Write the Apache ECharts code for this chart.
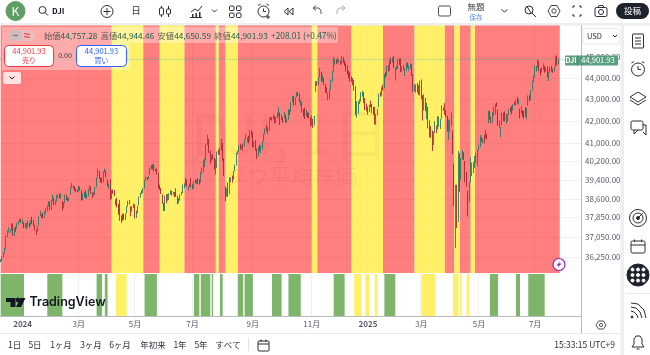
<!DOCTYPE html>
<html>
<head>
<meta charset="utf-8">
<script src="https://cdn.jsdelivr.net/npm/echarts@6/dist/echarts.min.js"></script>
<style>html,body{margin:0;padding:0;background:#fff}#main{width:650px;height:355px}</style>
</head>
<body>
<div id="main"></div>
<script>
// values, one row per month, Dec 2023 .. Jul 2025
var opens = [
36060,36130,36250,36420,36590,37110,37270,37290,37320,37550,37100,37390,37400,37560,37680,37720,
37570,37640,37430,37450,37470,37600,37560,37720,37650,37510,37290,37300,37530,37930,37960,37950,37850,38050,38110,38340,38470,
38180,38560,38630,38390,38530,38690,38730,38680,38520,38300,38440,38770,38610,38560,38770,39100,39120,39090,38980,38940,
39000,39060,38960,38620,38680,38800,38690,38790,39030,39060,38840,38750,38780,39120,39560,39760,39450,39340,39320,39780,
39770,39420,39110,39130,38640,38910,38920,38590,38500,38400,38000,37810,37840,37800,37800,38030,38280,38510,38290,38120,38250,38360,
37830,38060,38360,38680,38890,38890,39060,39400,39520,39450,39620,39910,39890,40000,39790,39860,39650,39100,39060,38760,38420,38120,
38700,38540,38730,38820,38900,38790,38880,38880,38710,38570,38590,38790,38860,39140,39170,39400,39090,39130,39180,
39110,39110,39320,39310,39390,39370,39310,39750,39760,40030,40270,40970,41180,40660,40320,40430,40350,39800,40000,40580,40550,40750,
40800,40290,39130,38740,39020,38800,39440,39490,39410,39800,40030,40580,40670,40880,40830,40960,40850,41190,41210,41210,41120,41370,
41480,40900,40950,40700,40410,40850,40740,40860,41100,41400,41620,41600,41580,42080,42070,42130,42230,41880,42180,42320,
42330,42130,42180,42130,42290,41970,42090,42480,42440,42890,43080,42760,43100,43290,43270,42910,42900,42520,42440,42200,42330,42230,42130,
41820,42030,41800,43490,43760,43750,44020,44300,43930,43970,43710,43430,43230,43260,43440,43880,44310,44760,44870,44760,
44780,44740,44720,44990,44780,44630,44400,44280,44150,43900,43840,43790,43470,42300,42380,42890,42910,43310,43300,42920,42620,
42600,42420,42730,42720,42640,42610,41930,42300,42660,43220,43160,43530,43530,44170,44200,44550,44440,44880,44750,44920,
44200,44420,44480,44880,44750,44340,44430,44340,44400,44720,44550,44520,44590,44170,43430,43470,43640,43440,43270,
43850,43120,42560,42970,42500,42660,41870,41690,41300,40920,41490,41790,41620,41890,41740,42100,42590,42610,42390,42240,41470,
41900,41790,41560,40100,37500,38650,37700,40550,39640,40500,40430,40200,39730,38950,38500,39280,39650,39950,40170,40130,40240,
40700,40840,41240,41080,41140,41220,41410,41920,42390,42170,41950,42330,42470,42720,42450,41850,41270,41900,42350,42290,42100,
42130,42300,42540,42430,42470,42790,42780,42890,42850,42560,42340,42480,42230,42250,42180,42750,43130,43030,43450,43850,
44080,44480,44500,44810,44400,44270,44500,44570,44360,44450,44030,44270,44490,44360,44350,44560,45010,44757.28
];
var closes = [
36117,36247,36404,36577,37090,37248,37305,37306,37557,37082,37404,37385,37545,37656,37710,37689,
37715,37430,37440,37466,37683,37525,37711,37711,37592,37361,37266,37468,37863,38001,37905,37806,38049,38109,38333,38467,38150,
38519,38654,38380,38521,38677,38726,38671,38797,38273,38424,38773,38627,38564,38612,39069,39131,39069,38972,38949,38996,
39087,38989,38585,38661,38791,38722,38769,39005,39043,38905,38714,38790,39110,39512,39781,39475,39313,39282,39760,39807,
39566,39170,39127,38596,38904,38892,38883,38461,38459,37983,37735,37798,37753,37775,37986,38240,38504,38461,38086,38240,38386,37816,
37903,38226,38676,38852,38884,39056,39388,39513,39432,39558,39908,39869,40004,39807,39872,39671,39065,39069,38852,38441,38112,38686,
38571,38711,38807,38886,38799,38868,38747,38712,38589,38589,38778,38834,39135,39150,39411,39112,39128,39164,39119,
39170,39332,39308,39376,39344,39291,39721,39753,40001,40212,40954,41198,40665,40288,40415,40358,39854,39935,40589,40539,40743,40843,
40347,39737,38703,38997,38763,39446,39497,39357,39766,40009,40563,40660,40897,40835,40890,40713,41175,41241,41250,41091,41335,41563,
40937,40975,40755,40345,40830,40736,40861,41097,41394,41622,41606,41503,42025,42063,42125,42208,41915,42175,42313,42330,
42156,42196,42012,42353,41954,42080,42512,42454,42864,43065,42740,43077,43239,43275,42932,42925,42514,42374,42115,42387,42233,42142,41763,
42052,41794,42222,43730,43729,43989,44293,43911,43958,43751,43445,43390,43269,43408,43870,44297,44736,44860,44722,44911,
44782,44705,45014,44766,44643,44401,44248,44149,43914,43828,43718,43450,42327,42342,42840,42906,43297,43325,42992,42574,42544,
42392,42732,42706,42528,42635,41938,42297,42518,43221,43153,43488,43487,44157,44156,44566,44424,44850,44713,44882,44544,
44421,44556,44873,44747,44303,44470,44593,44368,44711,44546,44556,44627,44176,43428,43461,43621,43433,43239,43841,
43191,42520,43006,42579,42801,41912,41433,41351,40813,41488,41841,41581,41964,41953,41985,42583,42587,42454,42299,41583,42001,
41989,42225,40545,38314,37966,37645,40608,39594,40212,40524,40368,39669,39142,38170,39186,39606,40093,40113,40227,40527,40669,
40752,41317,41218,41113,41114,41368,41249,42410,42140,42051,42322,42654,42792,42677,41860,41859,41603,42343,42003,42215,42270,
42305,42520,42427,42319,42763,42762,42867,42866,42968,42197,42515,42215,42172,42206,42582,43089,42982,43386,43819,44095,
44495,44484,44829,44406,44240,44458,44651,44371,44459,44023,44254,44484,44342,44323,44502,45010,44694,44901.93
];
var lows = [
36040,36100,36220,36390,36570,37030,37220,37210,37300,37080,37080,37260,37380,37540,37640,37620,
37570,37400,37400,37350,37460,37420,37500,37570,37490,37300,37120,37260,37510,37900,37820,37780,37840,37990,38090,38280,38130,
38150,38500,38350,38350,38480,38630,38620,38620,38120,38220,38430,38560,38500,38510,38770,39060,39040,38940,38880,38880,
38900,38960,38530,38560,38670,38640,38610,38710,38970,38810,38640,38730,38770,39090,39540,39440,39290,39260,39300,39730,
39520,39130,39020,38570,38600,38810,38720,38340,38250,37950,37700,37610,37700,37740,37730,38000,38280,38370,37890,38080,38220,37800,
37810,38000,38340,38650,38810,38850,39050,39370,39400,39440,39620,39860,39850,39760,39770,39640,39040,38980,38810,38400,38110,38100,
38420,38530,38560,38780,38740,38780,38680,38690,38380,38410,38530,38760,38850,39050,39160,39110,38960,39090,39100,
39000,39030,39270,39220,39240,39210,39300,39660,39730,39960,40250,40910,40570,40100,40210,40290,39850,39630,39920,40490,40490,40670,
40230,39570,38500,38700,38690,38800,39300,39290,39410,39780,40020,40510,40630,40710,40760,40670,40830,41180,41040,41000,41090,41260,
40800,40830,40670,40310,40410,40640,40540,40720,41090,41390,41550,41420,41550,42050,42010,42070,41900,41880,42120,42190,
41820,42050,41920,42120,41930,41920,42060,42270,42430,42870,42710,42730,43090,43150,42870,42710,42390,42200,42090,42200,42150,42120,41750,
41800,41690,41800,43350,43630,43660,44020,43820,43820,43680,43300,43300,42950,43000,43420,43820,44310,44640,44670,44730,
44720,44630,44660,44710,44580,44310,44170,44010,43830,43810,43650,43400,42270,42150,42330,42780,42890,43120,42820,42500,42440,
42290,42410,42630,42360,42280,41830,41840,42260,42640,43110,43160,43400,43500,44040,44110,44300,44340,44660,44730,44490,
43880,44370,44440,44640,44280,44310,44360,44100,44350,44490,44340,44440,44100,43330,43360,43300,43310,43200,43170,
43000,42020,42480,42450,42080,41660,41260,41240,40660,40910,41460,41450,41620,41740,41640,42100,42470,42280,42180,41520,41160,
41520,41770,40520,38300,36610,37410,37650,38900,39420,40290,40270,39300,39120,37880,38470,39280,39570,39690,39920,40130,40000,
40680,40830,41070,40990,41000,41220,41160,41900,42060,41900,41900,42240,42300,42660,41780,41690,41260,41800,42000,41980,41880,
41980,42270,42420,42300,42470,42710,42720,42800,42740,42120,42340,42180,42110,42190,42100,42700,42900,42960,43410,43800,
44020,44300,44480,44330,44120,44260,44390,44250,44310,44020,43850,44250,44300,44250,44300,44560,44600,44650.59
];
var highs = [
36170,36290,36430,36600,37110,37300,37430,37350,37590,37600,37410,37460,37620,37690,37790,37770,
37780,37640,37620,37610,37700,37610,37730,37860,37730,37530,37340,37500,37880,38110,37980,38030,38080,38220,38350,38490,38510,
38550,38790,38660,38540,38750,38790,38800,38840,38520,38470,38780,38790,38660,38680,39090,39280,39170,39130,39040,39000,
39150,39120,38960,38830,38890,38950,38820,39030,39170,39120,38880,38880,39120,39530,39890,39780,39500,39510,39770,39890,
39810,39420,39250,39430,38990,39000,38970,38590,38650,38400,38560,37920,37990,37990,38000,38300,38520,38560,38290,38310,38410,38380,
38120,38310,38700,38860,38960,39060,39400,39540,39530,39560,39940,40050,40080,40080,39880,39900,39710,39200,39070,38790,38440,38740,
38800,38810,38840,38960,38950,38900,38890,39050,38720,38630,38790,38900,39210,39260,39500,39420,39130,39240,39490,
39240,39340,39430,39390,39480,39430,39730,39930,40260,40350,40990,41380,41190,40670,40470,40520,40370,40300,40640,40710,40810,41200,
41000,40330,39140,39050,39290,39520,39510,39590,39780,40060,40580,40670,40900,40970,40910,40980,41200,41420,41260,41330,41580,41580,
41500,41100,41140,40770,40840,40940,40920,41100,41410,41660,41840,41720,42160,42170,42190,42290,42230,42190,42380,42630,
42390,42300,42180,42400,42290,42130,42540,42520,42880,43140,43150,43090,43330,43340,43270,42950,42900,42550,42610,42520,42390,42380,42150,
42270,42100,42230,43860,43840,44020,44490,44300,44150,43990,43710,43560,43310,43450,43930,44340,45000,44920,44890,44980,
44900,44830,45070,45000,44840,44700,44600,44340,44270,44080,44000,43900,43610,42910,42910,43000,43330,43390,43330,43060,42800,
42660,42750,42930,42780,42650,42640,42320,42560,43260,43350,43560,43680,44170,44280,44590,44620,44880,45000,44990,45050,
44500,44590,44900,44940,44930,44560,44620,44450,44730,44740,44600,44700,44660,44180,43700,43700,43760,43660,43880,
43930,43190,43230,43060,42830,42660,42030,41770,41570,41520,41990,41790,42220,42200,42100,42720,42620,42820,42500,42240,42070,
42060,42400,41560,40100,39200,39200,40660,40560,40350,40700,40600,40220,39750,38950,39300,40380,40150,40170,40440,40560,40700,
40930,41370,41280,41200,41370,41610,41420,42460,42460,42190,42400,42660,42800,42860,42520,42020,41730,42390,42380,42440,42310,
42320,42540,42620,42690,42780,42880,42970,43110,42990,42560,42660,42480,42460,42630,42600,43180,43180,43420,43880,44120,
44600,44570,44890,44830,44450,44500,44700,44580,44500,44550,44270,44540,44580,44450,44540,45040,45090,44944.46
];

var priceTicks = [45000,44000,43000,42000,41000,40200,39400,38600,37850,37050,36250];
var timeIndex = [16,57,98,140,184,227,268,307,349,390];
var timeLabels = ['2024','3月','5月','7月','9月','11月','2025','3月','5月','7月'];
var barSlots = 424;

// background state runs, as bar index pairs
var redRuns = [[0,81],[104,116],[134,157],[159,164],[173,227],[231,256],[279,302],[324,331],[335,343],[346,408]];
var yellowRuns = [[81,104],[116,134],[157,159],[164,173],[227,231],[256,279],[302,324],[331,335],[343,346]];
var lowerGreen = [[0,17],[34,45],[70,74],[76,78],[105,114],[141,145],[146,153],[154,155],[160,162],[173,177],[178,184],[198,205],[210,219],[243,251],[280,288],[357,363],[376,379],[385,397]];
var lowerYellow = [[84,92],[258,263],[266,269],[273,275],[307,317],[330,334],[335,336],[340,342]];

var JP = '"Noto Sans CJK JP","Noto Sans",sans-serif';
var INK = '#2a2e39';
var RED = 'rgba(255,0,0,0.5)', YEL = 'rgba(255,236,60,0.78)', GRN = 'rgba(76,153,50,0.72)';

var cats = [];
for (var i = 0; i < barSlots; i++) cats.push('');
timeIndex.forEach(function (k, n) { cats[k] = timeLabels[n]; });

var candles = [];
for (var j = 0; j < closes.length; j++) candles.push([opens[j], closes[j], lows[j], highs[j]]);

function runs(list, color) {
	return list.map(function (r) {
		return [{xAxis: r[0], itemStyle: {color: color}}, {xAxis: r[1]}];
	});
}
function money(v) {
	return v.toLocaleString('en-US', {minimumFractionDigits: 2, maximumFractionDigits: 2});
}
function isTick(i) { return timeIndex.indexOf(i) >= 0; }

// helpers for the terminal chrome around the chart
var g = [];
function txt(x, y, s, size, color, align, weight, fam) {
	g.push({type: 'text', x: x, y: y, z: 100, style: {text: s, fill: color || INK, align: align || 'center', verticalAlign: 'middle',
		font: (weight || 'normal') + ' ' + size + 'px ' + (fam || JP)}});
}
function box(x, y, w, h, r, fill, stroke, z) {
	g.push({type: 'rect', z: z || 90, shape: {x: x, y: y, width: w, height: h, r: r || 0}, style: {fill: fill || 'none', stroke: stroke || 'none', lineWidth: 1}});
}
function ring(cx, cy, r, fill, stroke, lw) {
	g.push({type: 'circle', z: 95, shape: {cx: cx, cy: cy, r: r}, style: {fill: fill || 'none', stroke: stroke || INK, lineWidth: lw || 1}});
}
function line(pts, color, lw, z) {
	g.push({type: 'polyline', z: z || 95, shape: {points: pts}, style: {stroke: color || INK, lineWidth: lw || 1, fill: 'none'}});
}
function poly(pts, color, z) {
	g.push({type: 'polygon', z: z || 95, shape: {points: pts}, style: {fill: color}});
}

// panel separators
box(0, 23, 650, 2.5, 0, '#eceef2', null, 80);
box(620.5, 25, 3.5, 330, 0, '#eceef2', null, 80);
line([[581.5, 25], [581.5, 333]], '#b8bbc4', 1, 85);
line([[0, 333.5], [621, 333.5]], '#e6e8ec', 1, 85);
line([[626, 293.5], [650, 293.5]], '#e6e8ec', 1, 85);

// watermark
g.push({type: 'text', x: 290, y: 134, z: 3, style: {text: 'DJI, 1日', fill: 'rgba(90,0,0,0.035)', align: 'center', verticalAlign: 'middle', font: '56px ' + JP}});
g.push({type: 'text', x: 291, y: 176, z: 3, style: {text: 'ダウ平均株価', fill: 'rgba(90,0,0,0.05)', align: 'center', verticalAlign: 'middle', font: '22px ' + JP}});

// top bar
ring(15.5, 11, 9.5, '#5f9e63', '#5f9e63');
txt(15.5, 11, 'K', 12, '#fff');
ring(42.5, 10, 3.5); line([[45, 12.5], [48, 15.5]]);
txt(52, 11, 'DJI', 8, '#131722', 'left', 'bold');
ring(107, 11.5, 6); line([[103.5, 11.5], [110.5, 11.5]]); line([[107, 8], [107, 15]]);
txt(136, 10.5, '日', 9.5);
line([[161.5, 6], [161.5, 17]]); box(159.5, 8, 4, 7, 1, '#fff', INK, 95);
line([[168.5, 6], [168.5, 17]]); box(166.5, 9, 4, 5, 1, '#fff', INK, 95);
line([[190, 17.5], [202, 17.5]]); line([[191, 12], [195, 9], [198, 11], [202, 6]]);
box(192, 14, 1.5, 3, 0, INK, null, 95); box(195.5, 13, 1.5, 4, 0, INK, null, 95); box(199, 12, 1.5, 5, 0, INK, null, 95);
line([[212, 9.5], [214.5, 12], [217, 9.5]]);
box(229.5, 6, 4.5, 4.5, 1, null, INK, 95); box(236.5, 6, 4.5, 4.5, 1, null, INK, 95);
box(229.5, 13, 4.5, 4.5, 1, null, INK, 95); box(236.5, 13, 4.5, 4.5, 1, null, INK, 95);
ring(263.5, 11.5, 5.5); line([[263.5, 8.5], [263.5, 11.5], [266, 11.5]]); line([[258, 5.5], [260.5, 4]]); line([[266.5, 4], [269, 5.5]]); line([[268, 15], [268, 19]]); line([[266, 17], [270, 17]]);
line([[288, 8], [284, 11.5], [288, 15], [288, 8]]); line([[293, 8], [289, 11.5], [293, 15], [293, 8]]);
line([[313, 8], [316, 5.5]], '#555'); line([[313, 8], [316, 10.5]], '#555'); line([[313, 8], [319, 8], [321, 11], [321, 14]], '#555');
line([[345, 8], [342, 5.5]], '#aaa'); line([[345, 8], [342, 10.5]], '#aaa'); line([[345, 8], [339, 8], [337, 11], [337, 14]], '#aaa');
box(438.5, 6, 12, 10, 1.5, null, '#4a4e59', 95);
txt(476, 7, '無題', 8.5, '#444');
txt(476, 18, '保存', 6.5, '#5b8def');
line([[501.5, 9.5], [504.5, 12], [507.5, 9.5]]);
ring(529, 10, 4); line([[532, 13], [536, 17]]); line([[527, 6.5], [531, 13]]);
line([[548, 11], [551, 5.5], [557, 5.5], [560, 11], [557, 16.5], [551, 16.5], [548, 11]], '#444'); ring(554, 11, 2.2, null, '#444');
line([[573, 8], [573, 6], [575, 6]]); line([[579, 6], [581, 6], [581, 8]]); line([[581, 14], [581, 16], [579, 16]]); line([[575, 16], [573, 16], [573, 14]]);
box(595, 7.5, 12, 9, 1.5, null, INK, 95); ring(601, 12, 2.5); line([[598, 7.5], [599, 5.5], [603, 5.5], [604, 7.5]]);
box(616, 3, 33, 16, 8, '#1e222d', null, 95);
txt(632.5, 11, '投稿', 8.5, '#fff');

// floating legend
box(2, 27, 336, 16, 0, 'rgba(255,255,255,0.35)', null, 90);
box(2, 43, 128, 27, 0, 'rgba(255,255,255,0.35)', null, 90);
box(9, 30, 26, 11, 5.5, 'rgba(235,190,190,0.9)', null, 92);
box(9, 30, 13, 11, 5.5, 'rgba(200,190,190,0.9)', null, 92);
line([[13, 35.5], [18, 35.5]], '#777', 1.2);
line([[24, 34], [26, 33.5], [28, 34.5], [30, 34]], '#e03040');
line([[24, 37], [26, 36.5], [28, 37.5], [30, 37]], '#e03040');
g.push({type: 'text', x: 44, y: 35.5, z: 100, style: {
	text: '{l|始値}{v|44,757.28} {l|高値}{v|44,944.46} {l|安値}{v|44,650.59} {l|終値}{v|44,901.93} {v|+208.01 (+0.47%)}',
	verticalAlign: 'middle', align: 'left',
	rich: {l: {fill: '#555', font: '8.3px ' + JP}, v: {fill: '#1f5f4a', font: '8.3px ' + JP}}
}});
box(4.5, 45.5, 49, 21, 4, '#fff', '#f23645', 92);
txt(29, 51.5, '44,901.93', 7.5, '#f23645');
txt(29, 60.5, '売り', 7, '#f23645');
txt(65, 55.5, '0.00', 7, '#333');
box(76.5, 45.5, 50, 21, 4, '#fff', '#2962ff', 92);
txt(101.5, 51.5, '44,901.93', 7.5, '#2962ff');
txt(101.5, 60.5, '買い', 7, '#2962ff');
box(3, 72, 18, 12, 2, 'rgba(255,255,255,0.78)', null, 92);
line([[9.5, 76.5], [12, 79], [14.5, 76.5]], '#222');

// price scale head
box(583, 28.5, 36, 15.5, 2, '#fff', '#e6e8ec', 90);
txt(587, 36, 'USD', 7.5, INK, 'left');
line([[613, 35], [615, 37], [617, 35]]);
box(565, 55.5, 53, 10, 1, '#5a9e80', null, 92);
line([[577.5, 55.5], [577.5, 65.5]], '#4c8c70', 1, 93);
txt(571, 60.5, 'DJI', 7.5, '#fff', 'center', 'bold');
txt(598, 60.5, money(closes[closes.length - 1]), 7.5, '#fff');

// bolt badge
ring(559, 264.5, 6, '#fff', '#9c27b0', 1.2);
poly([[560.5, 260.5], [556.5, 265.5], [559, 265.5], [557.5, 268.5], [561.5, 263.5], [559, 263.5]], '#9c27b0');

// logo
poly([[6, 298], [15.5, 298], [15.5, 307], [10.5, 307], [10.5, 302], [6, 302]], '#131722', 96);
ring(18, 300, 2, '#131722', '#131722');
poly([[20.5, 298], [25.5, 298], [21, 307], [16, 307]], '#131722', 96);
txt(29.5, 302.5, 'TradingView', 12.5, '#131722', 'left', '600', 'Inter, sans-serif');

// time scale settings and range buttons
line([[596, 325], [598.5, 321], [603.5, 321], [606, 325], [603.5, 329], [598.5, 329], [596, 325]], '#555'); ring(601, 325, 1.6, null, '#555');
var rangeBtns = [[14.7, '1日'], [35, '5日'], [61, '1ヶ月'], [91, '3ヶ月'], [120, '6ヶ月'], [153, '年初来'], [180, '1年'], [201, '5年'], [228, 'すべて']];
rangeBtns.forEach(function (b) { txt(b[0], 345, b[1], 8.5, INK); });
line([[248.5, 338], [248.5, 351]], '#e0e3eb');
box(258, 341, 11, 10, 1, null, INK, 95); line([[258, 344], [269, 344]]); line([[261, 339.5], [261, 342]]); line([[266, 339.5], [266, 342]]);
txt(615, 345, '15:33:15 UTC+9', 8.5, INK, 'right');

// side bar
box(632.5, 34, 11, 14, 0.5, null, INK, 95); line([[635, 38], [641, 38]]); line([[635, 41], [641, 41]]); line([[635, 44], [641, 44]]);
ring(638, 69.5, 6.5); line([[638, 66], [638, 69.5], [641, 69.5]]); line([[631.5, 63], [634, 61.5]]); line([[642, 61.5], [644.5, 63]]);
line([[638, 92], [646, 97], [638, 102], [630, 97], [638, 92]]); line([[630, 100], [638, 105], [646, 100]]);
box(631, 121, 12, 9, 1.5, null, INK, 95); line([[634, 130], [634, 134], [638, 130]]); line([[643, 125], [646, 125], [646, 135], [643, 132]]);
ring(638, 218, 8.5); ring(638, 218, 5); ring(638, 218, 1.5, INK); line([[638, 218], [643, 213]]);
box(631, 241, 14, 12, 1.5, null, INK, 95); line([[631, 245], [645, 245]]); line([[634.5, 239.5], [634.5, 242]]); line([[641.5, 239.5], [641.5, 242]]);
ring(638, 275, 11, '#1e222d', '#1e222d');
[632.5, 638, 643.5].forEach(function (dx) { [269.5, 275, 280.5].forEach(function (dy) { ring(dx, dy, 1.5, '#fff', '#fff'); }); });
ring(632, 317, 1, INK);
line([[631, 311], [634, 312], [637, 315], [638, 318]]);
line([[631, 307], [636, 308], [640, 312], [642, 318]]);
line([[631, 303], [638, 304], [644, 310], [646, 318]]);
line([[632, 347], [634, 344], [634, 339], [636, 336], [640, 336], [642, 339], [642, 344], [644, 347], [632, 347]]);
line([[636.5, 349], [639.5, 349]]);

var myChart = echarts.init(document.getElementById('main'), null, {renderer: 'canvas'});
myChart.setOption({
	animation: false,
	backgroundColor: '#fff',
	grid: [
		{left: -1, top: 25, width: 582, height: 248},
		{left: -1, top: 274, width: 582, height: 42}
	],
	xAxis: [{
		type: 'category', gridIndex: 0, data: cats, boundaryGap: true,
		axisLine: {show: false}, axisTick: {show: false}, axisLabel: {show: false},
		splitLine: {show: true, interval: function (i) { return isTick(i); }, lineStyle: {color: '#eef0f4', width: 1}}
	}, {
		type: 'category', gridIndex: 1, data: cats, boundaryGap: true,
		axisLine: {show: true, lineStyle: {color: '#b8bbc4', width: 1}}, axisTick: {show: false},
		axisLabel: {
			show: true, interval: function (i) { return isTick(i); }, margin: 4, hideOverlap: false,
			fontSize: 8, fontFamily: JP, color: '#555a66',
			formatter: function (v) { return v.length === 4 ? '{b|' + v + '}' : v; },
			rich: {b: {fontSize: 8, fontFamily: JP, fontWeight: 'bold', color: '#555a66'}}
		},
		splitLine: {show: true, interval: function (i) { return isTick(i); }, lineStyle: {color: '#eef0f4', width: 1}}
	}],
	yAxis: [{
		type: 'log', logBase: 10, gridIndex: 0, position: 'right', min: 35628, max: 46598, scale: true,
		axisLine: {show: false},
		axisTick: {show: false, customValues: priceTicks},
		axisLabel: {show: true, customValues: priceTicks, inside: false, margin: 4, fontSize: 8, fontFamily: JP, color: '#555a66', formatter: function (v) { return money(v); }},
		splitLine: {show: true, lineStyle: {color: '#eef0f4', width: 1}}
	}, {
		type: 'value', gridIndex: 1, min: 0, max: 1, show: false
	}],
	series: [{
		name: 'bands', type: 'line', xAxisIndex: 0, yAxisIndex: 0, data: [], silent: true, z: 1,
		markArea: {silent: true, z: 1, data: runs(redRuns, RED).concat(runs(yellowRuns, YEL))}
	}, {
		name: 'DJI', type: 'candlestick', xAxisIndex: 0, yAxisIndex: 0, data: candles, barWidth: 1, z: 5,
		itemStyle: {color: '#1a7a60', color0: '#a31f2c', borderColor: '#1a7a60', borderColor0: '#a31f2c', borderWidth: 1, opacity: 0.85},
		markLine: {silent: true, symbol: 'none', label: {show: false},
			lineStyle: {color: '#3d8f70', type: 'dotted', width: 1, opacity: 0.4},
			data: [{yAxis: closes[closes.length - 1]}]}
	}, {
		name: 'state', type: 'line', xAxisIndex: 1, yAxisIndex: 1, data: [], silent: true,
		markArea: {silent: true, data: runs(lowerGreen, GRN).concat(runs(lowerYellow, YEL))}
	}],
	graphic: {elements: g}
});
</script>
</body>
</html>
